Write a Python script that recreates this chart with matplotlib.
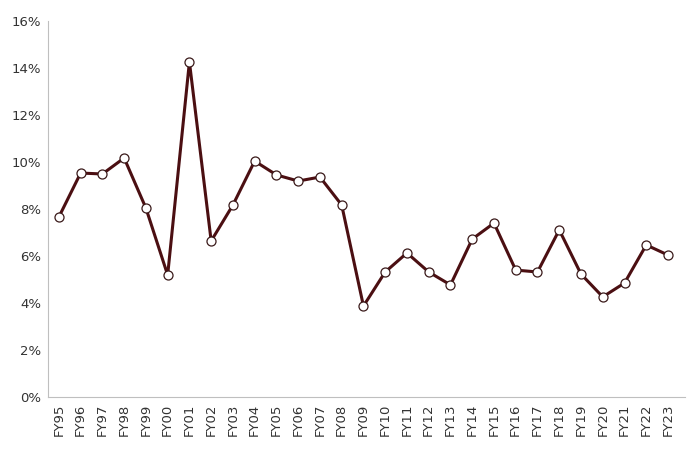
import matplotlib
matplotlib.use("Agg")
import matplotlib.pyplot as plt
from matplotlib.ticker import FuncFormatter

years = ["FY95","FY96","FY97","FY98","FY99","FY00","FY01","FY02","FY03","FY04","FY05","FY06","FY07","FY08","FY09","FY10","FY11","FY12","FY13","FY14","FY15","FY16","FY17","FY18","FY19","FY20","FY21","FY22","FY23"]
values = [7.66,9.53,9.49,10.17,8.04,5.19,14.26,6.64,8.17,10.04,9.45,9.19,9.36,8.17,3.87,5.32,6.13,5.32,4.77,6.72,7.40,5.40,5.32,7.11,5.23,4.26,4.85,6.47,6.04]

fig = plt.figure(figsize=(7, 4.55), dpi=100)
ax = fig.add_axes([48/700, 1-397/455, 637/700, 376/455])
x = list(range(len(years)))
ax.plot(x, values, color="#4b0f12", lw=2.2, marker="o", ms=6.5,
        mfc="white", mec="#3a1a1a", mew=0.9, zorder=3)
ax.set_ylim(0, 16)
ax.set_xlim(-0.5, len(years) - 0.22)
ax.set_yticks(range(0, 17, 2))
ax.yaxis.set_major_formatter(FuncFormatter(lambda v, p: f"{int(v)}%"))
ax.set_xticks(x)
ax.set_xticklabels(years, rotation=90)
ax.tick_params(axis="both", labelsize=9.5, colors="#333333", length=0, pad=5)
for s in ["top", "right"]:
    ax.spines[s].set_visible(False)
ax.spines["left"].set_color("#bfbfbf")
ax.spines["bottom"].set_color("#bfbfbf")
fig.savefig("out.png", dpi=100)
